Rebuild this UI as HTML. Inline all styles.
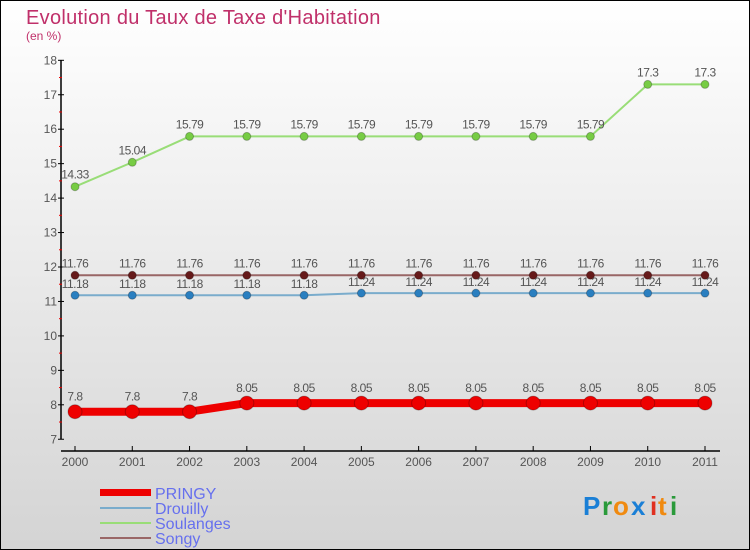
<!DOCTYPE html>
<html><head><meta charset="utf-8"><style>
html,body{margin:0;padding:0}
body{width:750px;height:550px;overflow:hidden}
#c{position:absolute;left:0;top:0;width:748px;height:548px;border:1px solid #000;background:linear-gradient(#ffffff,#d4d4d4)}
text{font-family:"Liberation Sans",sans-serif}
</style></head><body>
<div id="c">
<svg id="s" width="750" height="550" style="position:absolute;left:-1px;top:-1px">
<text x="26" y="24" font-size="20" fill="#c0306a" letter-spacing="0.3">Evolution du Taux de Taxe d'Habitation</text>
<text x="26" y="40" font-size="12" fill="#c0306a">(en %)</text>
<g id="axes"></g><g id="series"></g>
<g>
<rect x="100" y="489" width="51" height="7" fill="#e00"/>
<text x="155" y="499" font-size="16" fill="#6670ee">PRINGY</text>
<rect x="100" y="507" width="51" height="2" fill="#7aaccc"/>
<text x="155" y="514" font-size="16" fill="#6670ee">Drouilly</text>
<rect x="100" y="522" width="51" height="2" fill="#99dd77"/>
<text x="155" y="529" font-size="16" fill="#6670ee">Soulanges</text>
<rect x="100" y="537" width="51" height="2" fill="#996666"/>
<text x="155" y="544" font-size="16" fill="#6670ee">Songy</text>
</g>
<g font-size="26" font-weight="bold">
<text x="583" y="515" fill="#1a7fd6">P</text><text x="602" y="515" fill="#2a9a3a">r</text><text x="613" y="515" fill="#f08a10">o</text><text x="631" y="515" fill="#1a7fd6">x</text><text x="650" y="515" fill="#e03020">i</text><text x="658" y="515" fill="#f08a10">t</text><text x="670" y="515" fill="#2a9a3a">i</text>
</g>
</svg></div>
<script>
const years=[2000,2001,2002,2003,2004,2005,2006,2007,2008,2009,2010,2011];
const pringy=[7.8,7.8,7.8,8.05,8.05,8.05,8.05,8.05,8.05,8.05,8.05,8.05];
const drouilly=[11.18,11.18,11.18,11.18,11.18,11.24,11.24,11.24,11.24,11.24,11.24,11.24];
const soulanges=[14.33,15.04,15.79,15.79,15.79,15.79,15.79,15.79,15.79,15.79,17.3,17.3];
const songy=[11.76,11.76,11.76,11.76,11.76,11.76,11.76,11.76,11.76,11.76,11.76,11.76];
const yTicks=[7,8,9,10,11,12,13,14,15,16,17,18];
const NS="http://www.w3.org/2000/svg";
function X(i){return 75+i*(705-75)/(years.length-1);}
function Y(v){return 267-(v-12)*34.45;}
function mk(t,a,p){const e=document.createElementNS(NS,t);for(const k in a)e.setAttribute(k,a[k]);p.appendChild(e);return e;}
const ax=document.getElementById('axes');
let e=mk('line',{x1:61,y1:Y(18),x2:61,y2:Y(7),stroke:'#000','stroke-width':1.5},ax);


e=mk('line',{x1:61,y1:451,x2:720,y2:451,stroke:'#000','stroke-width':1.5},ax);


yTicks.forEach(v=>{
  mk('line',{x1:58,y1:Y(v),x2:64,y2:Y(v),stroke:'#000'},ax);
  if(v<18)mk('line',{x1:59,y1:Y(v+0.5),x2:62,y2:Y(v+0.5),stroke:'#e00'},ax);
  const t=mk('text',{x:57,y:Y(v)+4,'font-size':12,fill:'#555','text-anchor':'end'},ax);t.textContent=v;
  
  
});
years.forEach((yr,i)=>{
  mk('line',{x1:X(i),y1:446,x2:X(i),y2:451,stroke:'#000'},ax);
  const t=mk('text',{x:X(i),y:466,'font-size':12,fill:'#555','text-anchor':'middle'},ax);t.textContent=yr;
  
  
});
const sg=document.getElementById('series');
function draw(name,vals,lc,pc,w,r,lblDy){
  const g=mk('g',{},sg);
  
  
  const l=mk('polyline',{points:vals.map((v,i)=>X(i)+','+Y(v)).join(' '),fill:'none',stroke:lc,'stroke-width':w,'stroke-linejoin':'round'},g);
  
  
  vals.forEach((v,i)=>{
    const c=mk('circle',{cx:X(i),cy:Y(v),r:r,fill:pc,stroke:'rgba(0,0,0,0.25)','stroke-width':1},g);
    
    
    const t=mk('text',{x:X(i),y:Y(v)+lblDy,'font-size':12,fill:'#555','text-anchor':'middle','letter-spacing':'-0.5'},g);
    t.textContent=v;
    
    
  });
}
draw('soulanges',soulanges,'#99dd77','#77cc44',2,4,-8);
draw('songy',songy,'#996666','#661a1a',2,4,-8);
draw('drouilly',drouilly,'#7aaccc','#2a7fc0',2,4,-7);
draw('pringy',pringy,'#e00','#e00',8,7,-11);
</script>
</body></html>
